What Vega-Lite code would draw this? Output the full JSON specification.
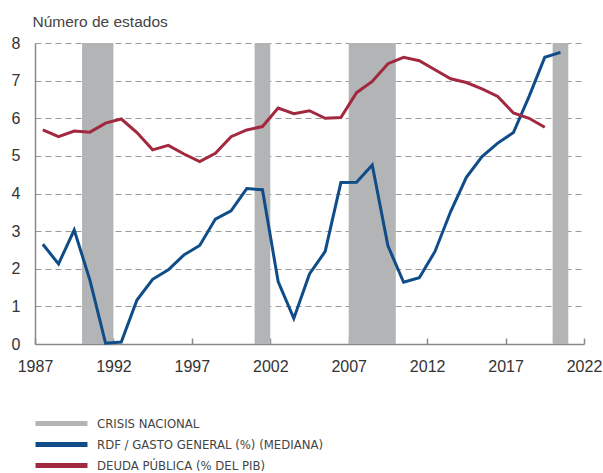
{
  "$schema": "https://vega.github.io/schema/vega-lite/v6.json",
  "autosize": {"type": "none"},
  "width": 549,
  "height": 301,
  "padding": {"left": 35, "top": 43, "right": 19, "bottom": 129},
  "background": "white",
  "config": {
    "view": {"stroke": null},
    "font": "Liberation Sans"
  },
  "datasets": {
    "crisis": [
      {"inicio": 1990, "fin": 1992, "serie": "CRISIS NACIONAL"},
      {"inicio": 2001, "fin": 2002, "serie": "CRISIS NACIONAL"},
      {"inicio": 2007, "fin": 2010, "serie": "CRISIS NACIONAL"},
      {"inicio": 2020, "fin": 2021, "serie": "CRISIS NACIONAL"}
    ],
    "lineas": [
      {"anio": 1987.5, "serie": "RDF / GASTO GENERAL (%) (MEDIANA)", "valor": 2.65},
      {"anio": 1988.5, "serie": "RDF / GASTO GENERAL (%) (MEDIANA)", "valor": 2.13},
      {"anio": 1989.5, "serie": "RDF / GASTO GENERAL (%) (MEDIANA)", "valor": 3.03},
      {"anio": 1990.5, "serie": "RDF / GASTO GENERAL (%) (MEDIANA)", "valor": 1.70},
      {"anio": 1991.5, "serie": "RDF / GASTO GENERAL (%) (MEDIANA)", "valor": 0.02},
      {"anio": 1992.5, "serie": "RDF / GASTO GENERAL (%) (MEDIANA)", "valor": 0.05},
      {"anio": 1993.5, "serie": "RDF / GASTO GENERAL (%) (MEDIANA)", "valor": 1.17},
      {"anio": 1994.5, "serie": "RDF / GASTO GENERAL (%) (MEDIANA)", "valor": 1.72},
      {"anio": 1995.5, "serie": "RDF / GASTO GENERAL (%) (MEDIANA)", "valor": 1.97},
      {"anio": 1996.5, "serie": "RDF / GASTO GENERAL (%) (MEDIANA)", "valor": 2.37},
      {"anio": 1997.5, "serie": "RDF / GASTO GENERAL (%) (MEDIANA)", "valor": 2.62},
      {"anio": 1998.5, "serie": "RDF / GASTO GENERAL (%) (MEDIANA)", "valor": 3.32},
      {"anio": 1999.5, "serie": "RDF / GASTO GENERAL (%) (MEDIANA)", "valor": 3.54},
      {"anio": 2000.5, "serie": "RDF / GASTO GENERAL (%) (MEDIANA)", "valor": 4.13},
      {"anio": 2001.5, "serie": "RDF / GASTO GENERAL (%) (MEDIANA)", "valor": 4.10},
      {"anio": 2002.5, "serie": "RDF / GASTO GENERAL (%) (MEDIANA)", "valor": 1.66},
      {"anio": 2003.5, "serie": "RDF / GASTO GENERAL (%) (MEDIANA)", "valor": 0.68},
      {"anio": 2004.5, "serie": "RDF / GASTO GENERAL (%) (MEDIANA)", "valor": 1.86},
      {"anio": 2005.5, "serie": "RDF / GASTO GENERAL (%) (MEDIANA)", "valor": 2.46},
      {"anio": 2006.5, "serie": "RDF / GASTO GENERAL (%) (MEDIANA)", "valor": 4.29},
      {"anio": 2007.5, "serie": "RDF / GASTO GENERAL (%) (MEDIANA)", "valor": 4.30},
      {"anio": 2008.5, "serie": "RDF / GASTO GENERAL (%) (MEDIANA)", "valor": 4.76},
      {"anio": 2009.5, "serie": "RDF / GASTO GENERAL (%) (MEDIANA)", "valor": 2.61},
      {"anio": 2010.5, "serie": "RDF / GASTO GENERAL (%) (MEDIANA)", "valor": 1.64},
      {"anio": 2011.5, "serie": "RDF / GASTO GENERAL (%) (MEDIANA)", "valor": 1.76},
      {"anio": 2012.5, "serie": "RDF / GASTO GENERAL (%) (MEDIANA)", "valor": 2.46},
      {"anio": 2013.5, "serie": "RDF / GASTO GENERAL (%) (MEDIANA)", "valor": 3.52},
      {"anio": 2014.5, "serie": "RDF / GASTO GENERAL (%) (MEDIANA)", "valor": 4.43},
      {"anio": 2015.5, "serie": "RDF / GASTO GENERAL (%) (MEDIANA)", "valor": 4.98},
      {"anio": 2016.5, "serie": "RDF / GASTO GENERAL (%) (MEDIANA)", "valor": 5.34},
      {"anio": 2017.5, "serie": "RDF / GASTO GENERAL (%) (MEDIANA)", "valor": 5.62},
      {"anio": 2018.5, "serie": "RDF / GASTO GENERAL (%) (MEDIANA)", "valor": 6.58},
      {"anio": 2019.5, "serie": "RDF / GASTO GENERAL (%) (MEDIANA)", "valor": 7.62},
      {"anio": 2020.5, "serie": "RDF / GASTO GENERAL (%) (MEDIANA)", "valor": 7.75},
      {"anio": 1987.5, "serie": "DEUDA PÚBLICA (% DEL PIB)", "valor": 5.69},
      {"anio": 1988.5, "serie": "DEUDA PÚBLICA (% DEL PIB)", "valor": 5.51},
      {"anio": 1989.5, "serie": "DEUDA PÚBLICA (% DEL PIB)", "valor": 5.66},
      {"anio": 1990.5, "serie": "DEUDA PÚBLICA (% DEL PIB)", "valor": 5.63},
      {"anio": 1991.5, "serie": "DEUDA PÚBLICA (% DEL PIB)", "valor": 5.87},
      {"anio": 1992.5, "serie": "DEUDA PÚBLICA (% DEL PIB)", "valor": 5.98},
      {"anio": 1993.5, "serie": "DEUDA PÚBLICA (% DEL PIB)", "valor": 5.62},
      {"anio": 1994.5, "serie": "DEUDA PÚBLICA (% DEL PIB)", "valor": 5.16},
      {"anio": 1995.5, "serie": "DEUDA PÚBLICA (% DEL PIB)", "valor": 5.28},
      {"anio": 1996.5, "serie": "DEUDA PÚBLICA (% DEL PIB)", "valor": 5.05},
      {"anio": 1997.5, "serie": "DEUDA PÚBLICA (% DEL PIB)", "valor": 4.85},
      {"anio": 1998.5, "serie": "DEUDA PÚBLICA (% DEL PIB)", "valor": 5.07},
      {"anio": 1999.5, "serie": "DEUDA PÚBLICA (% DEL PIB)", "valor": 5.51},
      {"anio": 2000.5, "serie": "DEUDA PÚBLICA (% DEL PIB)", "valor": 5.69},
      {"anio": 2001.5, "serie": "DEUDA PÚBLICA (% DEL PIB)", "valor": 5.78},
      {"anio": 2002.5, "serie": "DEUDA PÚBLICA (% DEL PIB)", "valor": 6.27},
      {"anio": 2003.5, "serie": "DEUDA PÚBLICA (% DEL PIB)", "valor": 6.12},
      {"anio": 2004.5, "serie": "DEUDA PÚBLICA (% DEL PIB)", "valor": 6.20},
      {"anio": 2005.5, "serie": "DEUDA PÚBLICA (% DEL PIB)", "valor": 6.00},
      {"anio": 2006.5, "serie": "DEUDA PÚBLICA (% DEL PIB)", "valor": 6.02},
      {"anio": 2007.5, "serie": "DEUDA PÚBLICA (% DEL PIB)", "valor": 6.68},
      {"anio": 2008.5, "serie": "DEUDA PÚBLICA (% DEL PIB)", "valor": 6.98},
      {"anio": 2009.5, "serie": "DEUDA PÚBLICA (% DEL PIB)", "valor": 7.45},
      {"anio": 2010.5, "serie": "DEUDA PÚBLICA (% DEL PIB)", "valor": 7.62},
      {"anio": 2011.5, "serie": "DEUDA PÚBLICA (% DEL PIB)", "valor": 7.53},
      {"anio": 2012.5, "serie": "DEUDA PÚBLICA (% DEL PIB)", "valor": 7.29},
      {"anio": 2013.5, "serie": "DEUDA PÚBLICA (% DEL PIB)", "valor": 7.05},
      {"anio": 2014.5, "serie": "DEUDA PÚBLICA (% DEL PIB)", "valor": 6.95},
      {"anio": 2015.5, "serie": "DEUDA PÚBLICA (% DEL PIB)", "valor": 6.78},
      {"anio": 2016.5, "serie": "DEUDA PÚBLICA (% DEL PIB)", "valor": 6.58},
      {"anio": 2017.5, "serie": "DEUDA PÚBLICA (% DEL PIB)", "valor": 6.14},
      {"anio": 2018.5, "serie": "DEUDA PÚBLICA (% DEL PIB)", "valor": 6.00},
      {"anio": 2019.5, "serie": "DEUDA PÚBLICA (% DEL PIB)", "valor": 5.76}
    ]
  },
  "layer": [
    {
      "data": {"name": "crisis"},
      "mark": {"type": "rect", "opacity": 1},
      "encoding": {
        "x": {"field": "inicio", "type": "quantitative"},
        "x2": {"field": "fin"},
        "color": {"field": "serie", "type": "nominal"}
      }
    },
    {
      "data": {"name": "lineas"},
      "mark": {"type": "line", "strokeWidth": 3, "strokeJoin": "miter"},
      "encoding": {
        "x": {
          "field": "anio", "type": "quantitative",
          "scale": {"domain": [1987, 2022], "nice": false, "zero": false},
          "axis": {
            "title": null,
            "values": [1987, 1992, 1997, 2002, 2007, 2012, 2017, 2022],
            "format": "d",
            "grid": false,
            "domainColor": "#8a8a8a",
            "domainWidth": 1.5,
            "ticks": true,
            "tickSize": -6,
            "tickColor": "#8a8a8a",
            "tickWidth": 1.5,
            "labelPadding": 20,
            "labelFontSize": 16,
            "labelColor": "#333333",
            "labelFlush": false
          }
        },
        "y": {
          "field": "valor", "type": "quantitative",
          "scale": {"domain": [0, 8], "nice": false},
          "axis": {
            "title": "Número de estados",
            "titleAngle": 0,
            "titleAlign": "left",
            "titleBaseline": "alphabetic",
            "titleX": -3,
            "titleY": -17,
            "titleFontSize": 15.5,
            "titleFontWeight": "normal",
            "titleColor": "#444444",
            "values": [0, 1, 2, 3, 4, 5, 6, 7, 8],
            "ticks": false,
            "labelPadding": 15,
            "labelFontSize": 16,
            "labelColor": "#333333",
            "domainColor": "#8a8a8a",
            "domainWidth": 1.5,
            "grid": true,
            "gridColor": "#9a9a9a",
            "gridDash": [6, 4],
            "gridWidth": 1
          }
        },
        "color": {
          "field": "serie", "type": "nominal",
          "scale": {
            "domain": ["CRISIS NACIONAL", "RDF / GASTO GENERAL (%) (MEDIANA)", "DEUDA PÚBLICA (% DEL PIB)"],
            "range": ["#b2b4b5", "#0f4c88", "#a2283f"]
          },
          "legend": {
            "title": null,
            "orient": "none",
            "legendX": -2,
            "legendY": 370,
            "direction": "vertical",
            "symbolType": "stroke",
            "symbolStrokeWidth": 5,
            "symbolSize": 2700,
            "symbolOpacity": 1,
            "clipHeight": 21,
            "labelFont": "DejaVu Sans Condensed",
            "labelFontSize": 13,
            "labelLimit": 500,
            "labelColor": "#444444",
            "labelOffset": 7,
            "rowPadding": 0
          }
        }
      }
    }
  ]
}
